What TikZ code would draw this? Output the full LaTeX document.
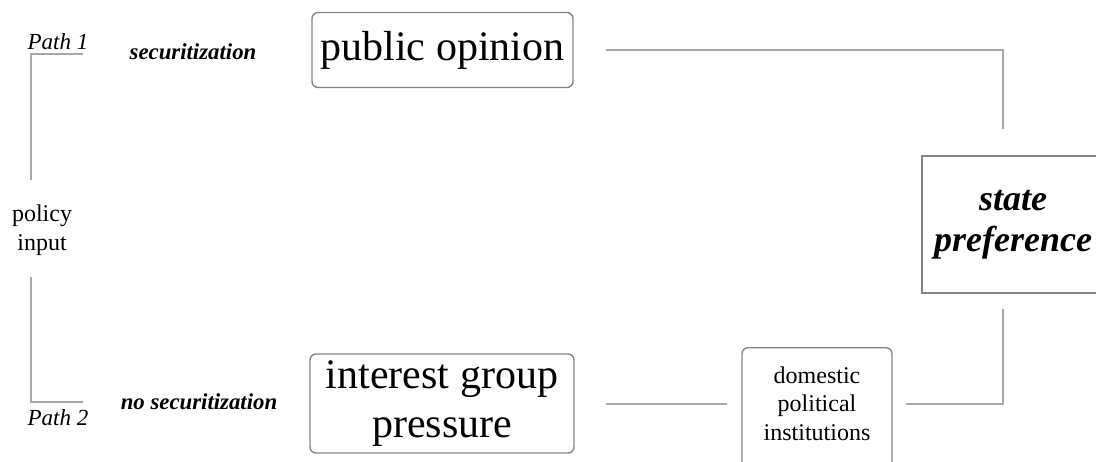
\documentclass[tikz,border=0pt]{standalone}
\usepackage{fontspec}
\setmainfont{Liberation Serif}
\usetikzlibrary{positioning}

\definecolor{linegray}{HTML}{A8A8A8}
\definecolor{boxgray}{HTML}{858585}

\begin{document}
\begin{tikzpicture}[x=0.5pt, y=-0.5pt,
        bigbox/.style={rectangle, draw=boxgray, line width=0.7pt, rounded corners=3pt, align=center, inner sep=0pt, font=\fontsize{21}{24.5}\selectfont},
        smallbox/.style={rectangle, draw=boxgray, line width=0.7pt, rounded corners=3pt, minimum width=75pt, minimum height=65pt},
        statebox/.style={rectangle, draw=boxgray, line width=0.8pt, align=center, inner sep=0pt, font=\fontsize{18}{20.5}\selectfont\bfseries\itshape},
        smalltext/.style={align=center, inner sep=0pt, font=\fontsize{12}{14.25}\selectfont},
        pathlabel/.style={inner sep=0pt, font=\fontsize{11.5}{13}\selectfont\itshape},
        caselabel/.style={inner sep=0pt, font=\fontsize{11.4}{13}\selectfont\bfseries\itshape},
        link/.style={draw=linegray, line width=1pt}
    ]
    \useasboundingbox (0,0) rectangle (1096,461);

    % Boxes
    \node[bigbox, minimum width=130.5pt, minimum height=37.5pt] (po) at (442.5,50) {public opinion};
    \node[bigbox, minimum width=132pt, minimum height=49.5pt] (ig) at (442,403.5) {interest group\\pressure};
    \node[smallbox, anchor=north] (inst) at (817,347) {};
    \node[smalltext] (insttxt) at (817,403.5) {domestic\\political\\institutions};
    \node[statebox, minimum width=91pt, minimum height=68.5pt] (sp) at (1013,224.5) {state\\preference};

    % Labels
    \node[smalltext] (pin) at (42,230) {policy\\input};
    \node[pathlabel] (path1) at (58,42) {Path 1};
    \node[pathlabel] (path2) at (58,418) {Path 2};
    \node[caselabel] (sec) at (193,52) {securitization};
    \node[caselabel] (nosec) at (199,402) {no securitization};

    % Corners
    \coordinate (t1) at (83,54);
    \coordinate (t2) at (83,402);
    \coordinate (tr) at (1003,50);
    \coordinate (br) at (1003,404);

    % Relationships
    \draw[link] (t1) -- ++(-52,0) -- ++(0,126);
    \draw[link] (t2) -- ++(-52,0) -- ++(0,-125);
    \draw[link, shorten <=16pt, shorten >=13pt] (po.east) -- (tr) -- (tr |- sp.north);
    \draw[link, shorten <=15.5pt, shorten >=7pt] (ig.east) -- (inst.west |- ig.east);
    \draw[link, shorten <=6.5pt, shorten >=7.5pt] (inst.east |- br) -- (br) -- (br |- sp.south);

\end{tikzpicture}
\end{document}
